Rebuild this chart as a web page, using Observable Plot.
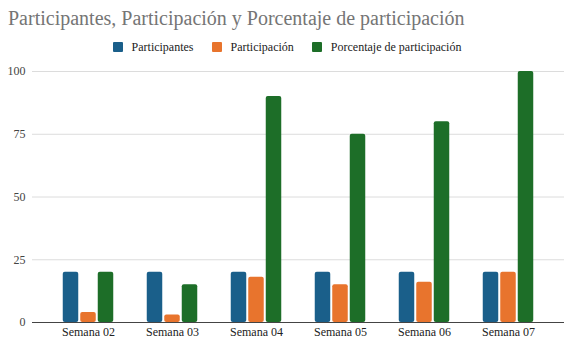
<!DOCTYPE html>
<html>
<head>
<meta charset="utf-8">
<script src="https://cdn.jsdelivr.net/npm/d3@7"></script>
<script src="https://cdn.jsdelivr.net/npm/@observablehq/plot@0.6"></script>
<style>
  html, body { margin: 0; padding: 0; background: #fff; }
  body { width: 574px; height: 357px; overflow: hidden; font-family: "Liberation Serif", "Times New Roman", serif; }
  #header { position: relative; height: 52px; }
  #title { position: absolute; left: 8px; top: 8px; font-size: 20px; line-height: 20px; color: #757575; white-space: nowrap; font-family: "Liberation Serif", serif; }
  #legend { position: absolute; left: 0; right: 0; top: 41px; height: 12px; display: flex; justify-content: center; align-items: center; font-size: 12px; line-height: 12px; color: #222; font-family: "Liberation Serif", serif; }
  .item { display: flex; align-items: center; margin: 0 9px; }
  .sw { width: 10px; height: 10px; border-radius: 1px; margin-right: 9px; }
  svg { display: block; }
</style>
</head>
<body>
<div id="header">
  <div id="title">Participantes, Participación y Porcentaje de participación</div>
  <div id="legend"></div>
</div>
<div id="chart"></div>
<script>
const weeks = ["Semana 02", "Semana 03", "Semana 04", "Semana 05", "Semana 06", "Semana 07"];
const seriesNames = ["Participantes", "Participación", "Porcentaje de participación"];
const seriesColors = ["#1a5f8a", "#e8742d", "#1d6e28"];
const participantes = [20, 20, 20, 20, 20, 20];
const participacion = [4, 3, 18, 15, 16, 20];
const porcentaje = [20, 15, 90, 75, 80, 100];
const yTicks = [0, 25, 50, 75, 100];

const seriesValues = [participantes, participacion, porcentaje];

// legend
const legend = document.getElementById("legend");
seriesNames.forEach((name, i) => {
  const item = document.createElement("div");
  item.className = "item";
  const sw = document.createElement("div");
  sw.className = "sw";
  sw.style.background = seriesColors[i];
  const t = document.createElement("span");
  t.textContent = name;
  item.appendChild(sw);
  item.appendChild(t);
  legend.appendChild(item);
});

const tables = seriesValues.map((vals, i) =>
  weeks.map((w, j) => ({week: w, series: seriesNames[i], value: vals[j]}))
);

const barW = 15.5, gap = 2;
const step = 84;
const sideInset = (step - barW) / 2;
const font = "'Liberation Serif', serif";

const plot = Plot.plot({
  width: 574,
  height: 305,
  marginLeft: 32,
  marginRight: 10,
  marginTop: 19,
  marginBottom: 35,
  style: {fontFamily: font, fontSize: "12px", background: "#fff"},
  x: {domain: weeks, paddingInner: 0, paddingOuter: 14 / 84, label: null, tickSize: 0, tickPadding: 6},
  y: {domain: [0, 100], ticks: yTicks, label: null, tickSize: 0, tickPadding: 7},
  marks: [
    Plot.gridY(yTicks.filter(d => d > 0), {stroke: "#dcdcdc", strokeOpacity: 1, strokeWidth: 1}),
    ...tables.map((data, i) =>
      Plot.barY(data, {
        x: "week",
        y: "value",
        fill: seriesColors[i],
        insetLeft: sideInset,
        insetRight: sideInset,
        dx: (i - 1) * (barW + gap),
        rx: 2
      })
    ),
    Plot.ruleY([0], {stroke: "#444", strokeWidth: 1}),
    Plot.axisX({tickSize: 0, tickPadding: 5, fill: "#222", fontSize: 12, fontFamily: font}),
    Plot.axisY({ticks: yTicks, tickSize: 0, tickPadding: 7, fill: "#444", fontSize: 12, fontFamily: font})
  ]
});
document.getElementById("chart").appendChild(plot);
</script>
</body>
</html>
